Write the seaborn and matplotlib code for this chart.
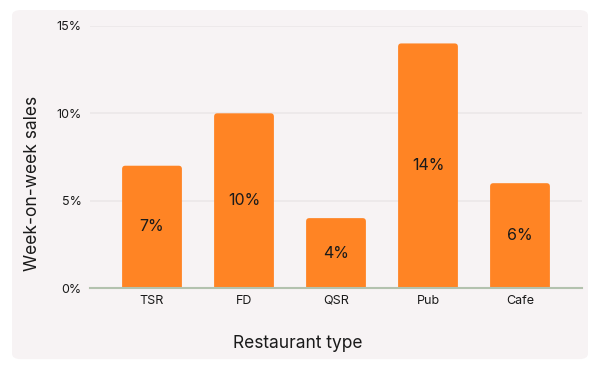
import matplotlib
matplotlib.use("Agg")
import matplotlib.pyplot as plt
from matplotlib.patches import FancyBboxPatch
import seaborn as sns
import pandas as pd

categories = ["TSR", "FD", "QSR", "Pub", "Cafe"]
values = [7, 10, 4, 14, 6]
y_ticks = [0, 5, 10, 15]
y_tick_labels = ["0%", "5%", "10%", "15%"]

sns.set_theme(style="white")
plt.rcParams["font.family"] = ["Inter", "DejaVu Sans"]

df = pd.DataFrame({"type": categories, "sales": values})

fig = plt.figure(figsize=(6, 3.71), dpi=100)
fig.patch.set_facecolor("white")
panel = FancyBboxPatch((0.02 + 0.012, 0.024 + 0.02), 0.96 - 0.024, 0.957 - 0.04,
                       boxstyle="round,pad=0.012,rounding_size=0.015",
                       transform=fig.transFigure, facecolor="#F7F3F4",
                       edgecolor="none", zorder=-10)
fig.patches.append(panel)

ax = fig.add_axes([0.15, 0.2237, 0.82, 0.7063])
ax.set_facecolor("none")
bar_color = "#FF8424"
sns.barplot(data=df, x="type", y="sales", color=bar_color, width=0.65,
            saturation=1, ax=ax, zorder=3)

# replace square bars with rounded-top bars
r = 0.35
for p in list(ax.patches):
    x0, w, h = p.get_x(), p.get_width(), p.get_height()
    p.set_visible(False)
    fb = FancyBboxPatch((x0, -r), w, h + r,
                        boxstyle="round,pad=0,rounding_size=0.035",
                        mutation_aspect=5.3,
                        facecolor=bar_color, edgecolor="none", zorder=3)
    ax.add_patch(fb)
    ax.text(x0 + w / 2, h / 2, f"{h:.0f}%", ha="center", va="center",
            fontsize=11.5, color="#1a1a1a", zorder=4)

ax.set_xlim(-0.674, 4.674)
ax.set_ylim(0, 15)
ax.set_yticks(y_ticks)
ax.set_yticklabels(y_tick_labels)
ax.grid(axis="y", color="#ECE7E8", linewidth=1.2, zorder=0)
ax.set_axisbelow(True)
for s in ["top", "right", "left"]:
    ax.spines[s].set_visible(False)
ax.spines["bottom"].set_color("#B3C2AE")
ax.spines["bottom"].set_linewidth(1.5)
ax.spines["bottom"].set_zorder(5)
ax.tick_params(axis="both", length=0, labelsize=9, colors="#1a1a1a")
ax.tick_params(axis="y", pad=6)
ax.tick_params(axis="x", pad=5)
ax.set_xlabel("")
ax.set_ylabel("")
fig.text(0.497, 1 - 343 / 371, "Restaurant type", ha="center", va="center",
         fontsize=12.5, color="#1a1a1a")
fig.text(33 / 600, 1 - 183 / 371, "Week-on-week sales", ha="center", va="center",
         rotation=90, fontsize=12.5, color="#1a1a1a")

fig.savefig("out.png", dpi=100, facecolor="white")
